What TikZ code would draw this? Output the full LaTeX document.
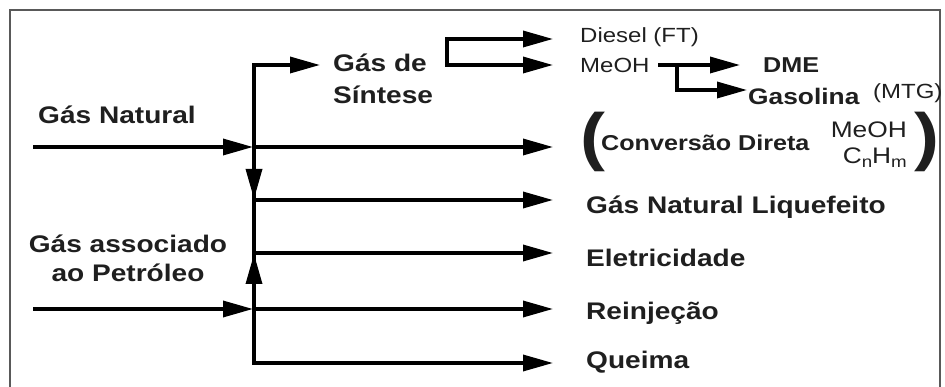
\documentclass[tikz,border=0pt]{standalone}
\usepackage{fontspec}
\setmainfont{Liberation Sans}[FakeStretch=1.17]
\usetikzlibrary{arrows.meta}
\tikzset{
  flow/.style={line width=3.4pt, line join=miter, -{Triangle[length=30pt,width=16pt]}},
  flowboth/.style={line width=3.4pt, line join=miter, {Triangle[length=30pt,width=16pt]}-{Triangle[length=30pt,width=16pt]}},
  big/.style={font=\bfseries\fontsize{24}{30}\selectfont, inner sep=0pt, text=black!88},
  mid/.style={font=\bfseries\fontsize{21.5}{24}\selectfont, inner sep=0pt, text=black!88},
  small/.style={font=\fontsize{20.5}{24}\selectfont, inner sep=0pt, text=black!88},
  chem/.style={font=\fontsize{22.5}{26}\selectfont, inner sep=0pt, text=black!88},
  paren/.style={font=\bfseries\fontsize{64}{64}\selectfont, inner sep=0pt, text=black!88}
}
\newcommand{\lowsub}[1]{\raisebox{-4pt}{\fontsize{16}{16}\selectfont #1}}
\begin{document}
\begin{tikzpicture}[x=1pt,y=-1pt]
\useasboundingbox (0,0) rectangle (945,387);
\draw[line width=1.8pt, black!65] (10,390) -- (10,10) -- (940,10) -- (940,390);
% text nodes
\node[big, anchor=west] (gasnat) at (38,115) {Gás Natural};
\node[big, align=center] (gasassoc) at (128,258) {Gás associado\\[-1pt]ao Petróleo};
\node[big, align=left, anchor=west] (gs) at (333,79) {Gás de\\[2pt]Síntese};
\node[small, anchor=west] (diesel) at (580,37) {Diesel (FT)};
\node[small, anchor=west] (meoh) at (580,65) {MeOH};
\node[mid, anchor=west] (dme) at (763,65) {DME};
\node[mid, font=\bfseries\fontsize{22.5}{24}\selectfont, anchor=west] (gasol) at (748,96) {Gasolina};
\node[small, anchor=west] (mtg) at (873,93) {(MTG)};
\node[paren] (lp) at (593,142) {(};
\node[mid, anchor=west] (conv) at (601,143) {Conversão Direta};
\node[chem, align=right, anchor=east] (cnhm) at (907,145) {MeOH\\C\lowsub{n}H\lowsub{m}};
\node[paren] (rp) at (927,142) {)};
\node[big, anchor=west] (gnl) at (586,207) {Gás Natural Liquefeito};
\node[big, anchor=west] (elet) at (586,258) {Eletricidade};
\node[big, anchor=west] (reinj) at (586,313) {Reinjeção};
\node[big, anchor=west] (queima) at (586,362) {Queima};
% coordinates
\coordinate (gnA) at (33,147);
\coordinate (gaA) at (33,309);
\coordinate (j1) at (254,147);
\coordinate (j2) at (254,309);
\coordinate (topC) at (254,65);
\coordinate (botC) at (254,363);
\coordinate (gsT) at (320,65);
\coordinate (cdT) at (553,147);
\coordinate (reT) at (553,309);
\coordinate (qT) at (553,363);
\coordinate (gnlL) at (254,200);
\coordinate (gnlT) at (553,200);
\coordinate (elL) at (254,253);
\coordinate (elT) at (553,253);
\coordinate (dnT) at (254,199);
\coordinate (upT) at (254,254);
\coordinate (brT) at (447,39);
\coordinate (brB) at (447,65);
\coordinate (dT) at (553,39);
\coordinate (mT) at (553,65);
\coordinate (m1) at (658,65);
\coordinate (m2) at (677,65);
\coordinate (dmeT) at (740,65);
\coordinate (gasT) at (747,90);
% connectors
\draw[flow] (gnA) -- ([xshift=-1pt]j1);
\draw[flow] (gaA) -- ([xshift=-1pt]j2);
\draw[flowboth] (gsT) -- (topC) -- (botC) -- (qT);
\draw[flow] (j1) -- (cdT);
\draw[flow] (j2) -- (reT);
\draw[flow] (j1) -- (dnT);
\draw[flow] (j2) -- (upT);
\draw[flow] (gnlL) -- (gnlT);
\draw[flow] (elL) -- (elT);
\draw[flowboth] (dT) -- (brT) -- (brB) -- (mT);
\draw[flow] (m1) -- (dmeT);
\draw[flow] (m2) |- (gasT);
\end{tikzpicture}
\end{document}
